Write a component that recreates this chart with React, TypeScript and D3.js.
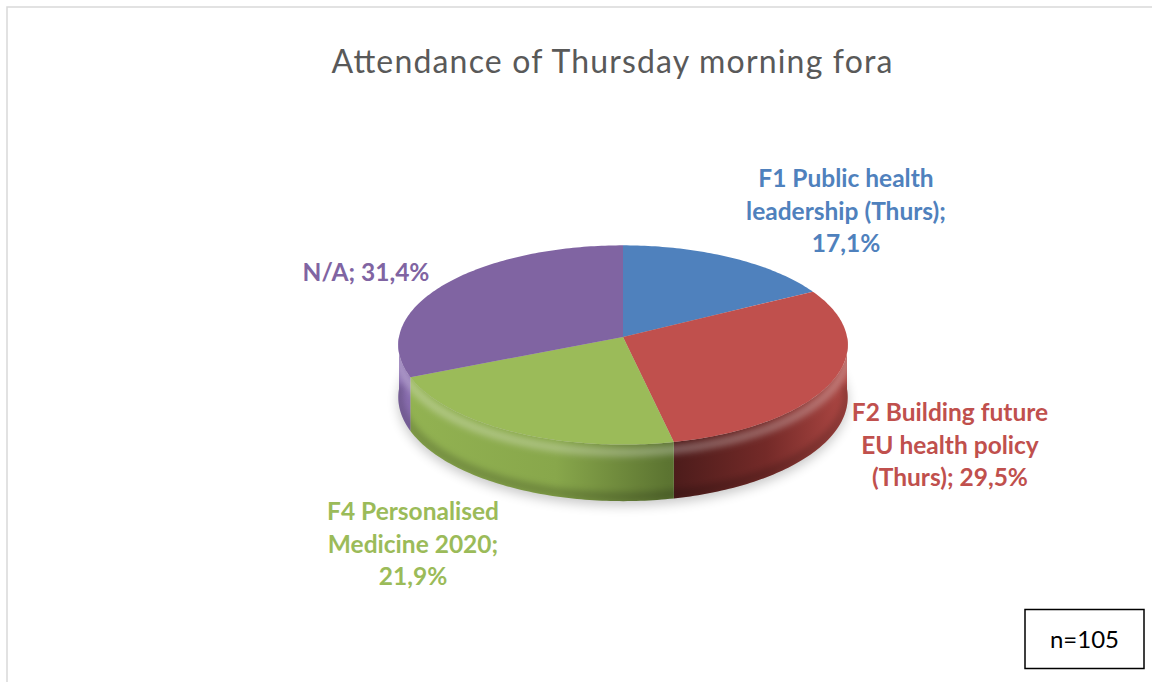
import React from "react";
import * as d3 from "d3";

// ---- data ----
const categories = [
  "F1 Public health leadership (Thurs)",
  "F2 Building future EU health policy (Thurs)",
  "F4 Personalised Medicine 2020",
  "N/A",
];
const values = [17.1, 29.5, 21.9, 31.4];
const valueLabels = ["17,1%", "29,5%", "21,9%", "31,4%"];
const labelLines = [
  ["F1 Public health", "leadership (Thurs);", "17,1%"],
  ["F2 Building future", "EU health policy", "(Thurs); 29,5%"],
  ["F4 Personalised", "Medicine 2020;", "21,9%"],
  ["N/A; 31,4%"],
];
const title = "Attendance of Thursday morning fora";
const noteText = "n=105";

// ---- styles / layout ----
const W = 1152;
const H = 682;
const topColors = ["#4f81bd", "#c0504d", "#9bbb59", "#8064a2"];
const labelColors = ["#4f81bd", "#c0504d", "#9bbb59", "#8064a2"];
const sideStops: [number, string][][] = [
  [[0, "#4f81bd"], [1, "#2c4d75"]],
  [[0, "#5a2220"], [0.6, "#4a1b1a"], [0.82, "#742a28"], [1, "#ad4743"]],
  [[0, "#93b352"], [0.35, "#88a74b"], [0.6, "#5c7431"], [1, "#4f6228"]],
  [[0, "#8a6eb0"], [1, "#5e4a7a"]],
];
const labelPos = [
  { x: 846, y: 187 },
  { x: 950, y: 421 },
  { x: 413, y: 520 },
  { x: 366, y: 281 },
];
const LINE_H = 32.5;

const CX = 623;
const CY = 337;
const RX = 224;
const RY = 99;
const K = 0.08;
const DEPTH = 52;

function proj(theta: number, dz = 0): [number, number] {
  const u = Math.sin(theta);
  const v = Math.cos(theta);
  const s = 1 / (1 + K * v);
  return [CX + RX * u * s, CY - RY * v * s + dz * s];
}

function sampleArc(a0: number, a1: number, dz = 0): [number, number][] {
  const n = Math.max(2, Math.ceil(Math.abs(a1 - a0) / (Math.PI / 180)));
  return d3.range(n + 1).map((i) => proj(a0 + ((a1 - a0) * i) / n, dz));
}

const line = d3.line<[number, number]>().x((d) => d[0]).y((d) => d[1]);

export default function App() {
  const pie = d3.pie<number>().sort(null).value((d) => d)(values);

  const tops = pie.map((p) => {
    const pts: [number, number][] = [[CX, CY], ...sampleArc(p.startAngle, p.endAngle)];
    return line(pts) + "Z";
  });

  const frontStart = Math.PI / 2;
  const frontEnd = (3 * Math.PI) / 2;
  const sides = pie.map((p) => {
    const s = Math.max(p.startAngle, frontStart);
    const e = Math.min(p.endAngle, frontEnd);
    if (e <= s) return null;
    const pts = [...sampleArc(s, e, 0), ...sampleArc(e, s, DEPTH)];
    return line(pts) + "Z";
  });

  const fullBottom = line(sampleArc(0, Math.PI * 2, DEPTH + 4)) + "Z";
  const frontTop = line(sampleArc(frontStart, frontEnd, 7)) || "";
  const frontBottom = line(sampleArc(frontStart, frontEnd, DEPTH - 4)) || "";
  const sideUnion =
    line([...sampleArc(frontStart, frontEnd, 0), ...sampleArc(frontEnd, frontStart, DEPTH)]) + "Z";

  return (
    <svg
      width={W}
      height={H}
      style={{ position: "absolute", left: 0, top: 0 }}
      xmlns="http://www.w3.org/2000/svg"
    >
      <defs>
        {sideStops.map((stops, i) => (
          <linearGradient
            key={i}
            id={`side${i}`}
            gradientUnits="userSpaceOnUse"
            x1={CX - RX}
            x2={CX + RX}
            y1={0}
            y2={0}
          >
            {stops.map(([o, c], j) => (
              <stop key={j} offset={o} stopColor={c} />
            ))}
          </linearGradient>
        ))}
        <filter id="blur6" x="-20%" y="-20%" width="140%" height="140%">
          <feGaussianBlur stdDeviation="6" />
        </filter>
        <filter id="blur3" x="-20%" y="-50%" width="140%" height="200%">
          <feGaussianBlur stdDeviation="3" />
        </filter>
        <clipPath id="sideClip">
          <path d={sideUnion} />
        </clipPath>
      </defs>

      <rect width={W} height={H} fill="#ffffff" />
      <rect x={7} y={7} width={W + 20} height={H + 20} fill="none" stroke="#d9d9d9" strokeWidth={1.5} />

      <text
        x={612}
        y={73}
        textAnchor="middle"
        fontFamily="Lato, 'Open Sans', sans-serif"
        fontSize={32}
        textLength={561}
        lengthAdjust="spacing"
        fill="#595959"
      >
        {title}
      </text>

      {/* shadow */}
      <path d={fullBottom} fill="#000" opacity={0.22} filter="url(#blur6)" />

      {/* sides */}
      {sides.map((d, i) =>
        d ? <path key={`s${i}`} d={d} fill={`url(#side${i})`} /> : null
      )}
      <g clipPath="url(#sideClip)">
        <path d={frontTop} fill="none" stroke="#ffffff" strokeOpacity={0.28} strokeWidth={9} filter="url(#blur3)" />
        <path d={frontBottom} fill="none" stroke="#000000" strokeOpacity={0.18} strokeWidth={10} filter="url(#blur3)" />
      </g>

      {/* tops */}
      {tops.map((d, i) => (
        <path key={`t${i}`} d={d} fill={topColors[i]}>
          <title>{`${categories[i]}: ${valueLabels[i]}`}</title>
        </path>
      ))}

      {/* labels */}
      {labelLines.map((lines, i) => (
        <text
          key={`l${i}`}
          textAnchor="middle"
          fontFamily="Lato, 'Open Sans', sans-serif"
          fontWeight="bold"
          fontSize={24.5}
          fill={labelColors[i]}
        >
          {lines.map((t, j) => (
            <tspan key={j} x={labelPos[i].x} y={labelPos[i].y + j * LINE_H}>
              {t}
            </tspan>
          ))}
        </text>
      ))}

      {/* note box */}
      <rect x={1025} y={609.5} width={119} height={59} fill="#fff" stroke="#000" strokeWidth={1.5} />
      <text
        x={1084.5}
        y={648}
        textAnchor="middle"
        fontFamily="Lato, 'Open Sans', sans-serif"
        fontSize={24}
        fill="#000"
      >
        {noteText}
      </text>
    </svg>
  );
}
